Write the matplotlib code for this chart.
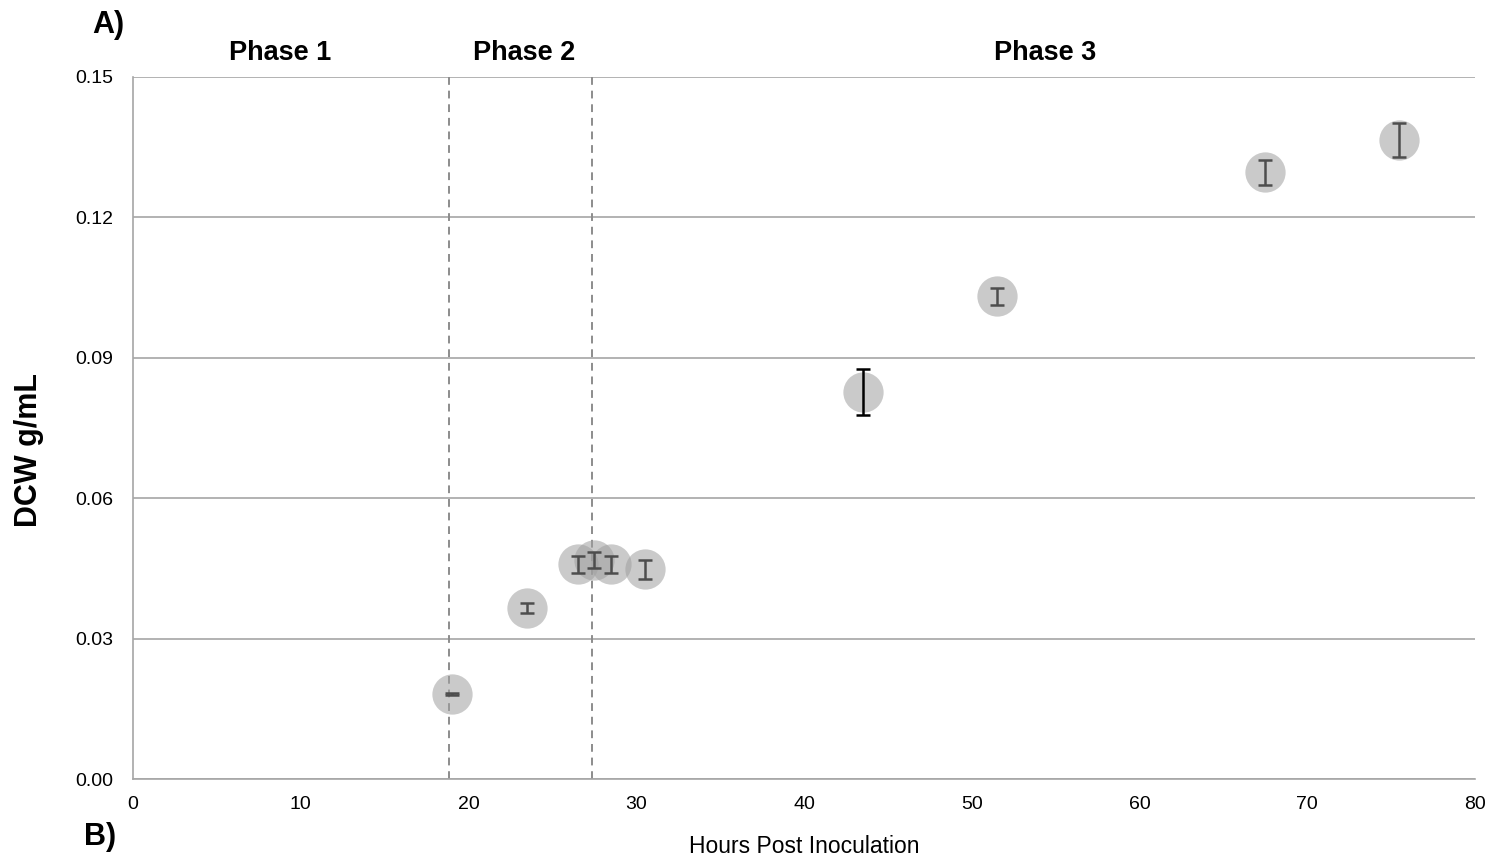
import matplotlib.pyplot as plt

plt.rcParams["font.family"] = ["Liberation Sans", "DejaVu Sans"]

# hours post inoculation, dry cell weight (g/mL) and error
hours = [19.0, 23.5, 26.5, 27.5, 28.5, 30.5, 43.5, 51.5, 67.5, 75.5]
dcw = [0.0182, 0.0366, 0.0459, 0.0468, 0.0459, 0.0448, 0.0827, 0.1031, 0.1296, 0.1365]
err = [0.0002, 0.0011, 0.0018, 0.0018, 0.0018, 0.0021, 0.0050, 0.0019, 0.0027, 0.0036]
err_colors = ["#4d4d4d"] * 6 + ["black"] + ["#4d4d4d"] * 3

phase_bounds = [18.85, 27.35]
phase_labels = ["Phase 1", "Phase 2", "Phase 3"]
phase_centres = [8.8, 23.3, 54.4]

fig = plt.figure(figsize=(15.08, 8.59), dpi=100)
ax = fig.add_axes([0.0882, 0.0931, 0.8899, 0.8173])

ax.set_xlim(0, 80)
ax.set_ylim(0, 0.15)
ax.set_xticks(range(0, 81, 10))
ax.set_yticks([0, 0.03, 0.06, 0.09, 0.12, 0.15])
ax.set_yticklabels([f"{v:.2f}" for v in ax.get_yticks()])
ax.yaxis.grid(True, color="#a6a6a6", lw=1.2)
ax.set_axisbelow(True)
for side in ["top", "right"]:
    ax.spines[side].set_visible(False)
for side in ["left", "bottom"]:
    ax.spines[side].set_color("#a6a6a6")
    ax.spines[side].set_linewidth(1.2)
ax.tick_params(axis="y", length=0, labelsize=14, pad=14)
ax.tick_params(axis="x", length=0, labelsize=14, pad=12)

for xb in phase_bounds:
    ax.axvline(xb, color="#8c8c8c", ls=(0, (4, 3)), lw=1.4, zorder=1)

ax.plot(hours, dcw, "o", ms=29, color="#a0a0a0", alpha=0.55, mec="none", zorder=2)
for x, y, e, c in zip(hours, dcw, err, err_colors):
    ax.errorbar(x, y, yerr=e, fmt="none", ecolor=c, elinewidth=1.8,
                capsize=5, capthick=1.8, zorder=3)

for lab, xc in zip(phase_labels, phase_centres):
    ax.text(xc, 0.1523, lab, ha="center", va="bottom", fontsize=19.5,
            fontweight="bold")

ax.set_xlabel("Hours Post Inoculation", fontsize=16.5)
ax.xaxis.set_label_coords(0.5, -0.080)
ax.set_ylabel("DCW g/mL", fontsize=22, fontweight="bold")
ax.yaxis.set_label_coords(-0.066, 0.468)

fig.text(0.061, 0.971, "A)", fontsize=22, fontweight="bold", ha="left", va="center")
fig.text(0.056, 0.026, "B)", fontsize=22, fontweight="bold", ha="left", va="center")

fig.savefig("out.png", dpi=100)
